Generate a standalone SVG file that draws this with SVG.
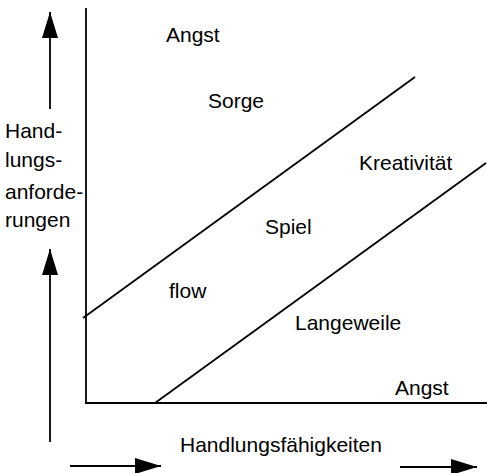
<svg xmlns="http://www.w3.org/2000/svg" width="487" height="473" viewBox="0 0 487 473">
<style>
.t{font-family:"Liberation Sans",Arial,sans-serif;font-size:21px;fill:#000}
.ln{stroke:#000;stroke-width:1.8;fill:none}
.ar{stroke:#000;stroke-width:1.8;fill:none}
</style>
<defs>
<marker id="ah" markerUnits="userSpaceOnUse" markerWidth="28" markerHeight="18" refX="26" refY="8" orient="auto">
<path d="M0,0 L26,8 L0,16 Z" fill="#000"/>
</marker>
</defs>
<rect width="487" height="473" fill="#fff"/>
<g id="axes">
<line class="ln" x1="86" y1="8" x2="86" y2="403"/>
<line class="ln" x1="85" y1="403" x2="487" y2="403"/>
</g>
<g id="connectors">
<line class="ar" x1="50" y1="109" x2="50" y2="12" marker-end="url(#ah)"/>
<line class="ar" x1="50" y1="442" x2="50" y2="249" marker-end="url(#ah)"/>
<line class="ar" x1="70" y1="466" x2="161" y2="466" marker-end="url(#ah)"/>
<line class="ar" x1="400" y1="467" x2="477" y2="467" marker-end="url(#ah)"/>
<line class="ln" x1="83" y1="318" x2="415" y2="77"/>
<line class="ln" x1="155" y1="403" x2="486" y2="163"/>
</g>
<g id="labels">
<text class="t" x="166" y="42">Angst</text>
<text class="t" x="208" y="108">Sorge</text>
<text class="t" x="359" y="170">Kreativität</text>
<text class="t" x="265" y="234">Spiel</text>
<text class="t" x="169" y="298">flow</text>
<text class="t" x="295" y="330">Langeweile</text>
<text class="t" x="395" y="395">Angst</text>
<text class="t" x="180" y="452">Handlungsfähigkeiten</text>
<text class="t" x="5" y="138">Hand-</text>
<text class="t" x="5" y="167">lungs-</text>
<text class="t" x="5" y="199">anforde-</text>
<text class="t" x="5" y="227">rungen</text>
</g>
</svg>
